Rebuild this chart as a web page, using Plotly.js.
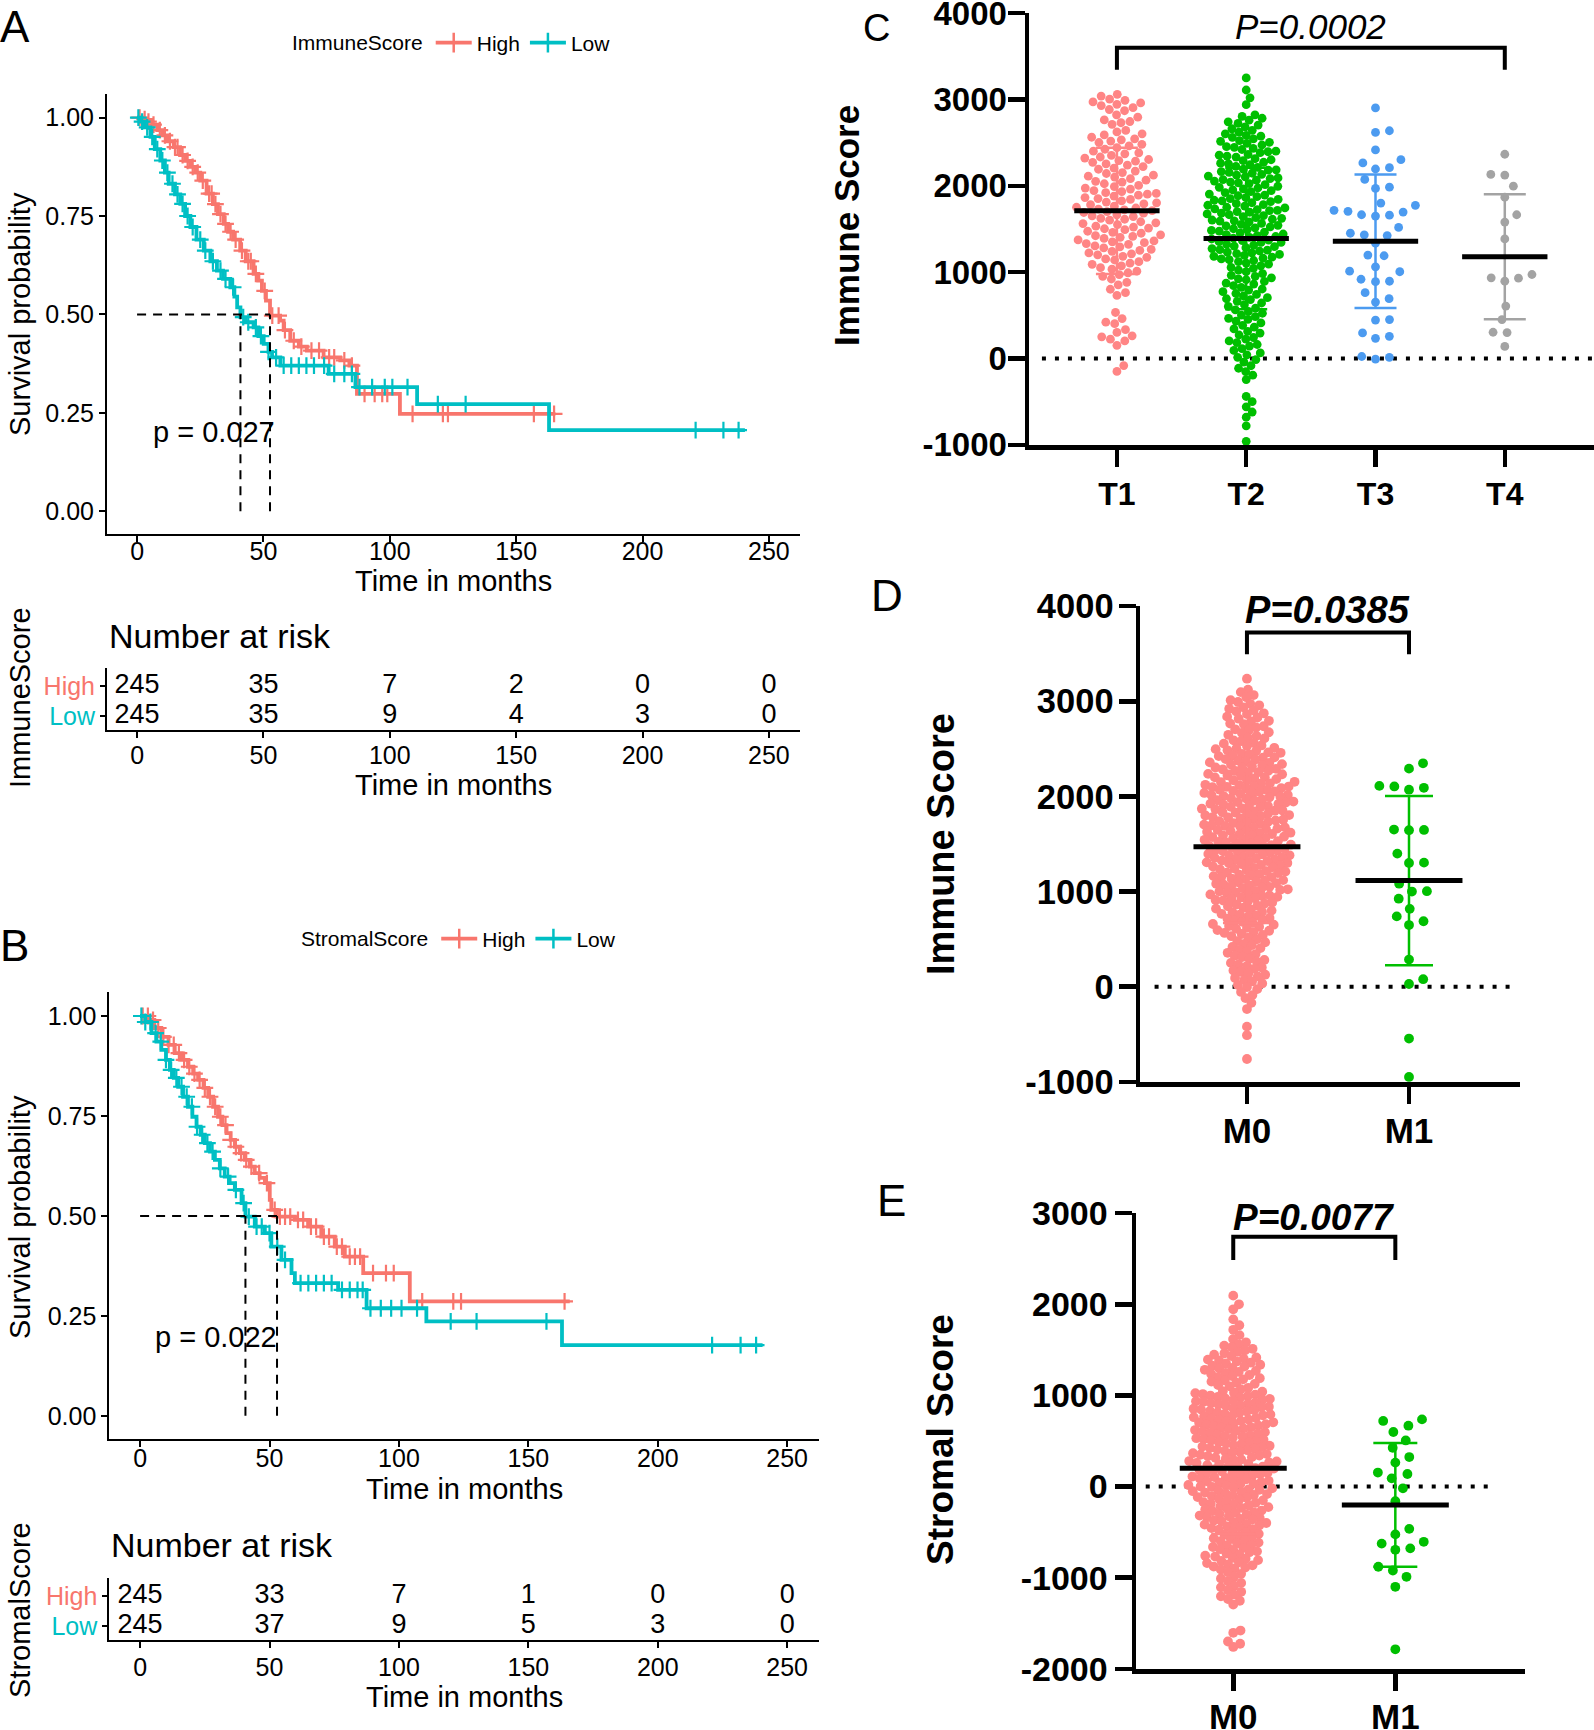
<!DOCTYPE html>
<html><head><meta charset="utf-8">
<script src="https://cdn.plot.ly/plotly-3.0.1.min.js"></script>
<style>html,body{margin:0;padding:0;background:#fff;}#chart{width:1594px;height:1730px;}</style>
</head><body><div id="chart"></div>
<script>
// ===================== DATA =====================
const kmTicks = [0, 50, 100, 150, 200, 250];
const survTicks = [0, 0.25, 0.5, 0.75, 1];
const riskTimes = [0, 50, 100, 150, 200, 250];
const groupNames = ['High', 'Low'];

// Panel A: ImmuneScore survival (event times / survival after event)
const aHighT = [0,2,4,6,8,10,12,14.5,17,19,21,23,25,27.5,30,32,34.3,36,38,40.8,43,46.1,48,49.4,51,52.6,56.6,58,60.6,64,67.2,73.8,80.4,84,87,104];
const aHighS = [1,0.996,0.99,0.982,0.968,0.955,0.94,0.925,0.905,0.89,0.875,0.86,0.84,0.807,0.78,0.755,0.73,0.71,0.69,0.662,0.635,0.603,0.586,0.56,0.535,0.497,0.484,0.46,0.433,0.418,0.408,0.391,0.383,0.37,0.298,0.247];
const aHighEnd = 165.5;
const aHighCens = [1,3,4.5,6.5,9,11,13,15,16,18,20,22,24,26,28.5,29.5,31,33,35,37,39,41.5,44,45,47,50.5,53.5,56,58.5,62,65,69,72,76,78,82,85,90,94,97,99,109,121,123,157,165];
const aLowT = [0,1.5,3,5.3,7,9.2,11,12.5,15,17.1,19,21.1,23.5,26.4,29,31.6,34,36.9,38.5,39.6,40.9,43,46.1,48,50.1,52,53.4,56.7,75.8,86.4,110.8,163];
const aLowS = [1,0.99,0.975,0.951,0.92,0.891,0.86,0.832,0.805,0.781,0.75,0.722,0.69,0.662,0.635,0.611,0.59,0.569,0.545,0.518,0.493,0.48,0.467,0.445,0.425,0.405,0.391,0.37,0.349,0.315,0.272,0.206];
const aLowEnd = 240.5;
const aLowCens = [0.5,2,4,6,8,10,12,14,16,18,20,22,25,27,30,33,35,38,42,44,47,49,52,55,58,61,64,67,70,74,78,82,85,88,93,98,101,107,119,130,221,232,238];
const aRiskHigh = [245, 35, 7, 2, 0, 0];
const aRiskLow = [245, 35, 9, 4, 3, 0];

// Panel B: StromalScore survival
const bHighT = [0,3.1,5.5,8.2,11,13.4,16,18.5,20.5,22.4,24.5,26.3,28.2,30.1,31.8,33.4,35,36.6,38.5,40.4,42.4,44.3,46.2,48.2,50.1,50.7,52.9,59.8,64.9,70,75.2,79.1,86.2,104.2];
const bHighS = [1,0.99,0.97,0.948,0.928,0.907,0.89,0.873,0.856,0.84,0.82,0.798,0.773,0.748,0.727,0.707,0.69,0.673,0.657,0.64,0.623,0.607,0.595,0.582,0.54,0.515,0.498,0.49,0.473,0.448,0.423,0.398,0.357,0.286];
const bHighEnd = 166;
const bHighCens = [1,3,5,7,9,11,13,15,17,19,21,23,25,27,29,31,33,35,37,39,41,43,46,49,52,54,56,58,61,63,66,68,71,73,76,78,81,83,85,90,95,98,109,121,124,164];
const bLowT = [0,2,4.4,6.3,8.2,10,11.5,13,14.7,16.6,18.5,20.2,21.8,23.4,25,27,28.9,30.8,32.7,34.6,36.6,39.2,40.7,44.3,48.2,50.7,54.6,58.5,59.8,76.5,87.5,110.6,163];
const bLowS = [1,0.985,0.957,0.936,0.915,0.89,0.865,0.845,0.823,0.798,0.773,0.748,0.723,0.703,0.682,0.661,0.64,0.619,0.598,0.582,0.565,0.532,0.498,0.473,0.457,0.423,0.39,0.357,0.332,0.315,0.269,0.236,0.177];
const bLowEnd = 240.5;
const bLowCens = [0.5,2,4,6,8,10,12,14,16,18,20,22,24,26,28,31,34,37,40,42,45,47,50,53,56,62,65,68,71,74,78,81,84,86,89,93,97,101,107,120,130,157,221,232,238];
const bRiskHigh = [245, 33, 7, 1, 0, 0];
const bRiskLow = [245, 37, 9, 5, 3, 0];

// Panel C: Immune Score by T stage
const tCats = ['T1', 'T2', 'T3', 'T4'];
const immuneTicks = [-1000, 0, 1000, 2000, 3000, 4000];
const stromalTicks = [-2000, -1000, 0, 1000, 2000, 3000];
const t1Vals = [3060,3040,3005,2990,2972,2960,2944,2930,2905,2884,2870,
 2822,2795,2764,2745,2731,2712,
 2642,2624,2603,2590,2563,2545,2533,2518,2502,2481,2463,2442,
 2424,2401,2383,2371,2352,2334,2322,2305,2293,2286,
 2272,2254,2241,2223,2205,2192,2171,2154,2143,2124,2112,2101,
 2083,2065,2052,2043,2024,2005,1991,1974,1962,1945,1933,1921,1912,1903,
 1892,1881,1864,1852,1843,1825,1812,1803,1791,1782,1764,1752,1743,1731,1722,1712,
 1702,1691,1683,1664,1652,1643,1624,1613,1602,1584,1572,1563,1551,1533,1522,
 1511,1503,1492,1474,1462,1451,1433,1422,1414,1403,1391,1374,1362,1351,1342,1331,
 1322,1304,1293,1281,1263,1252,1241,1223,1212,1201,1183,1172,1153,1141,
 1122,1104,1091,1073,1052,1034,1012,993,972,951,
 921,882,853,802,763,731,
 533,462,421,403,334,302,263,251,224,203,152,
 -82,-150];
const t2Vals = [3250,3110,3020,2940,
 2822,2804,2783,2761,2742,2723,2704,2682,2661,2643,2622,2603,
 2584,2562,2545,2523,2504,2492,2473,2454,2433,2421,2402,2384,2363,2345,2332,2314,2302,2291,
 2273,2262,2244,2225,2213,2194,2183,2165,2146,2132,2124,2113,2105,2092,
 2084,2073,2055,2043,2026,2014,1995,1983,1964,1952,1934,1922,1905,1893,1874,1863,1852,1844,1833,1826,
 1817,1804,1793,1782,1765,1752,1744,1733,1724,1713,1702,1694,1683,1665,1654,1643,1632,1624,1613,1604,
 1592,1583,1565,1554,1543,1525,1514,1503,1494,1475,1463,1454,1442,1424,1413,1404,1393,1384,1372,1366,
 1353,1344,1325,1313,1302,1284,1273,1262,1245,1233,1224,1205,1194,1183,1174,1162,1153,1144,
 1123,1105,1092,1074,1055,1043,1024,1005,984,963,952,934,923,912,
 893,874,862,843,824,805,792,774,753,742,724,705,692,683,
 662,643,624,603,584,563,545,524,503,484,465,452,
 433,412,384,363,342,313,294,272,243,224,
 203,184,162,143,114,93,64,42,13,-12,
 -43,-84,-113,-152,-193,-244,
 -440,-500,-560,-620,-680,-780,-960,
 2575,2515,2445,2395,2355,2255,2185,2155,2065,2035,1975,1945,1885,1775,1715,1675,1595,1535,1485,1435,1345,1295,1255,1215,1135];
const t3Vals = [2903,2638,2619,2416,2303,2265,2210,2195,2074,1984,1970,1800,1774,1716,1705,1696,1665,1660,1650,1518,1451,1432,1424,1335,1198,1190,1062,1012,1005,918,895,890,763,693,654,451,445,296,257,234,23,12,-8];
const t4Vals = [2366,2132,2125,1996,1868,1665,1580,1385,973,934,930,895,607,451,304,300,140];
const tMeans = [1710, 1390, 1358, 1178];
const tSDs = [730, 820, 774, 724];

// Panel D: Immune Score by M stage
const mCats = ['M0', 'M1'];
const dM0Vals = [3238,3122,3097,3066,3043,3011,2993,2974,2958,2937,2921,2903,
 2893,2874,2866,2839,2830,2817,2795,2788,2766,2759,2738,2725,2706,2699,2675,2668,2648,2637,2618,2610,2590,2581,2562,2555,2536,2530,2511,2504,
 2497,2485,2479,2463,2459,2448,2442,2428,2424,2411,2407,2392,2389,2376,2370,2358,2353,2340,2335,2324,2318,2305,2302,2290,2284,2272,2268,2255,2250,2237,2233,2221,2217,2203,2200,2188,2182,2170,2167,2154,2151,2138,2134,2122,2119,2108,2104,2101,
 2097,2086,2083,2071,2066,2058,2052,2049,2037,2031,2027,2015,2012,2003,1998,1991,1980,1977,1968,1960,1957,1946,1941,1935,1924,1921,1913,1903,1899,1890,1886,1875,1871,1864,1853,1850,1842,1833,1829,1818,1815,1804,1800,1793,1781,1779,1768,1762,1755,1747,1740,1733,1725,1720,1711,1704,
 1697,1690,1686,1675,1671,1662,1656,1648,1642,1635,1629,1619,1615,1605,1602,1591,1587,1577,1572,1564,1559,1549,1544,1536,1530,1521,1517,1507,1503,1493,1488,1480,1474,1465,1461,1451,1446,1438,1432,1423,1419,1409,1404,1396,1390,1381,1377,1367,1362,1354,1348,1339,1335,1325,1320,1312,1307,1301,
 1296,1288,1279,1273,1263,1257,1248,1241,1232,1226,1215,1210,1200,1194,1184,1178,1168,1162,1152,1147,1136,1130,1120,1114,1104,1098,1088,1082,1072,1066,1056,1050,1040,1034,1024,1018,1008,1002,992,986,976,970,960,954,944,938,928,922,912,906,
 896,885,874,864,851,844,830,821,810,800,787,780,766,757,746,736,723,716,702,693,682,672,659,652,638,629,618,608,595,588,574,565,554,544,531,516,
 497,480,467,449,436,418,405,387,374,356,343,325,312,294,281,263,250,232,219,201,188,170,157,139,126,108,
 92,71,55,34,18,-4,-26,-55,-88,-120,-170,-235,
 -420,-510,-760];
const dM1Vals = [2348,2292,2111,2105,2091,2071,1648,1652,1645,1399,1304,1300,1083,1004,1000,925,818,739,688,648,285,79,28,-545,-949];
const dMeans = [1470, 1115];
const dSDs = [800, 890];

// Panel E: Stromal Score by M stage
const eM0Vals = [2095,2000,1945,1835,1770,1720,
 1662,1618,1583,1561,1547,1528,1512,1496,1478,1463,1447,1431,1417,1404,
 1393,1384,1371,1359,1351,1337,1326,1316,1303,1294,1281,1269,1259,1246,1236,1224,1211,1201,1189,1177,1163,1152,1139,1127,1113,1099,1084,1068,
 1047,1041,1030,1025,1015,1009,999,993,984,978,968,962,953,947,937,931,922,916,906,900,891,885,875,869,860,854,844,838,829,823,813,807,798,792,782,776,767,761,751,745,736,730,720,714,705,701,
 694,685,679,669,662,652,646,637,630,620,613,604,597,587,580,571,564,554,547,538,531,521,514,505,498,488,481,472,465,455,448,439,432,422,415,406,399,389,382,373,366,356,349,340,333,323,316,305,
 297,291,280,275,265,259,249,244,234,228,218,213,203,197,187,182,172,166,156,151,141,135,125,120,110,104,94,89,79,73,63,58,48,42,32,27,17,11,1,-4,-14,-20,-30,-35,-45,-51,-61,-66,-76,-82,-92,-97,
 -105,-115,-122,-133,-141,-152,-159,-170,-178,-189,-196,-207,-215,-226,-233,-244,-252,-263,-270,-281,-289,-300,-307,-318,-326,-337,-344,-355,-363,-374,-381,-392,-400,-411,-418,-429,-437,-448,-455,-466,-474,-492,
 -504,-519,-528,-543,-552,-567,-576,-591,-600,-615,-624,-639,-648,-663,-672,-687,-696,-711,-720,-735,-744,-759,-768,-783,-792,-807,-816,-831,-840,-855,-864,-879,-888,-899,
 -910,-940,-958,-989,-1008,-1039,-1057,-1088,-1106,-1137,-1155,-1186,-1204,-1235,-1253,-1295,
 -1580,-1605,-1700,-1725,-1760];
const eM1Vals = [737,720,668,599,506,425,324,263,154,138,90,-19,-161,-464,-525,-606,-626,-678,-694,-880,-921,-990,-1100,-1786];
const eMeans = [200, -201];
const eSDs = [720, 679];

// ===================== STYLE / LAYOUT =====================
const W = 1594, H = 1730;
const FONT = 'Liberation Sans, Arial, Helvetica, sans-serif';
const RED = '#F8766D', TEAL = '#00BFC4';
const PINK = '#FF8585', GREEN = '#00BF00', BLUE = '#4C9BF0', GRAY = '#A3A3A3';

function xd(a, b) { return [a / W, b / W]; }
function yd(top, bottom) { return [1 - bottom / H, 1 - top / H]; }

const KMX = [-11.9, 262.3];
const KMY = [-0.058, 1.06];
const RKY = [0.533, 2.6];

const dom = {
  x1: xd(107, 800), y1: yd(94, 534),
  x2: xd(107, 800), y2: yd(668, 730),
  x3: xd(109.3, 819), y3: yd(992, 1439),
  x4: xd(109.3, 819), y4: yd(1578, 1640),
  x5: xd(1029, 1594), y5: yd(13, 445),
  x6: xd(1140, 1520), y6: yd(606, 1082),
  x7: xd(1136, 1525), y7: yd(1213, 1669)
};
const rng = {
  x5: [-0.68, 3.69], y5: [-1002, 4002],
  x6: [-0.66, 1.685], y6: [-1002, 4002],
  x7: [-0.60, 1.80], y7: [-2002, 3002]
};
function ppu(d, r, tot) { return (d[1] - d[0]) * tot / (r[1] - r[0]); }

function stepAt(T, S, t) { let s = S[0]; for (let i = 0; i < T.length; i++) { if (T[i] <= t) s = S[i]; else break; } return s; }
function median(T, S) { for (let i = 0; i < T.length; i++) if (S[i] <= 0.5) return T[i]; return null; }

function kmTraces(T, S, end, cens, color, xa, ya, name, legend) {
  return [
    { type: 'scatter', mode: 'lines', x: T.concat([end]), y: S.concat([S[S.length - 1]]),
      line: { shape: 'hv', color, width: 3.8 }, xaxis: xa, yaxis: ya, showlegend: false, hoverinfo: 'skip' },
    { type: 'scatter', mode: 'markers', x: cens, y: cens.map(t => stepAt(T, S, t)),
      marker: { symbol: 'cross-thin', size: 12, color, line: { color, width: 2.2 } },
      xaxis: xa, yaxis: ya, showlegend: false, hoverinfo: 'skip' },
    { type: 'scatter', mode: 'lines+markers', x: [null], y: [null], name, legend,
      line: { color, width: 3.8 }, marker: { symbol: 'cross-thin', size: 14, color, line: { color, width: 2.5 } },
      xaxis: xa, yaxis: ya, showlegend: true }
  ];
}
function riskTrace(vals, row, xa, ya) {
  return { type: 'scatter', mode: 'text', x: riskTimes, y: riskTimes.map(() => row), text: vals.map(String),
    textfont: { family: FONT, size: 27, color: '#000' }, xaxis: xa, yaxis: ya, showlegend: false, hoverinfo: 'skip', cliponaxis: false };
}

function swarm(vals, pxY, dist) {
  const order = vals.map((v, i) => i).sort((a, b) => vals[a] - vals[b]);
  const placed = []; const off = new Array(vals.length);
  for (const i of order) {
    const y = vals[i] * pxY;
    const near = [];
    for (let k = placed.length - 1; k >= 0; k--) { const p = placed[k]; if (y - p.y >= dist) break; near.push(p); }
    const cands = [0];
    near.forEach(p => { const dx = Math.sqrt(Math.max(0, dist * dist - (p.y - y) ** 2)); cands.push(p.x + dx, p.x - dx); });
    cands.sort((a, b) => Math.abs(a) - Math.abs(b));
    let best = 0;
    for (const c of cands) { if (near.every(p => (p.x - c) ** 2 + (p.y - y) ** 2 >= dist * dist - 0.01)) { best = c; break; } }
    placed.push({ x: best, y }); off[i] = best;
  }
  return off;
}
function dotTrace(vals, idx, color, size, dist, xa, ya, pxX, pxY) {
  const off = swarm(vals, pxY, dist);
  return { type: 'scatter', mode: 'markers', x: off.map(o => idx + o / pxX), y: vals,
    marker: { color, size, line: { width: 0 } }, xaxis: xa, yaxis: ya, showlegend: false, hoverinfo: 'skip', cliponaxis: false };
}
function summaryTraces(means, sds, colors, half, cap, xa, ya) {
  const out = [];
  means.forEach((m, i) => {
    out.push({ type: 'scatter', mode: 'markers', x: [i], y: [m], marker: { size: 1, color: 'rgba(0,0,0,0)' },
      error_y: { type: 'data', array: [sds[i]], color: colors[i], thickness: 2.5, width: cap, visible: true },
      xaxis: xa, yaxis: ya, showlegend: false, hoverinfo: 'skip' });
  });
  const mx = [], my = [];
  means.forEach((m, i) => { mx.push(i - half, i + half, null); my.push(m, m, null); });
  out.push({ type: 'scatter', mode: 'lines', x: mx, y: my, line: { color: '#000', width: 5 }, xaxis: xa, yaxis: ya, showlegend: false, hoverinfo: 'skip' });
  return out;
}
function bracket(x0, x1, yLow, yHigh, xa, ya) {
  return { type: 'scatter', mode: 'lines', x: [x0, x0, x1, x1], y: [yLow, yHigh, yHigh, yLow],
    line: { color: '#000', width: 4 }, xaxis: xa, yaxis: ya, showlegend: false, hoverinfo: 'skip' };
}

// ---------- traces ----------
let traces = [];
traces = traces.concat(kmTraces(aHighT, aHighS, aHighEnd, aHighCens, RED, 'x', 'y', groupNames[0], 'legend'));
traces = traces.concat(kmTraces(aLowT, aLowS, aLowEnd, aLowCens, TEAL, 'x', 'y', groupNames[1], 'legend'));
traces.push(riskTrace(aRiskHigh, 2, 'x2', 'y2'), riskTrace(aRiskLow, 1, 'x2', 'y2'));
traces = traces.concat(kmTraces(bHighT, bHighS, bHighEnd, bHighCens, RED, 'x3', 'y3', groupNames[0], 'legend2'));
traces = traces.concat(kmTraces(bLowT, bLowS, bLowEnd, bLowCens, TEAL, 'x3', 'y3', groupNames[1], 'legend2'));
traces.push(riskTrace(bRiskHigh, 2, 'x4', 'y4'), riskTrace(bRiskLow, 1, 'x4', 'y4'));

const pxX5 = ppu(dom.x5, rng.x5, W), pxY5 = ppu(dom.y5, rng.y5, H);
const pxX6 = ppu(dom.x6, rng.x6, W), pxY6 = ppu(dom.y6, rng.y6, H);
const pxX7 = ppu(dom.x7, rng.x7, W), pxY7 = ppu(dom.y7, rng.y7, H);
const tColors = [PINK, GREEN, BLUE, GRAY];
const tSpacing = [9.0, 7.9, 14, 14];
[t1Vals, t2Vals, t3Vals, t4Vals].forEach((v, i) => traces.push(dotTrace(v, i, tColors[i], 8.8, tSpacing[i], 'x5', 'y5', pxX5, pxY5)));
traces = traces.concat(summaryTraces(tMeans, tSDs, tColors, 0.33, 21, 'x5', 'y5'));
traces.push(bracket(0, 3, 3346, 3600, 'x5', 'y5'));

const mColors = [PINK, GREEN];
const dSpacing = [7.6, 15], eSpacing = [7.6, 15];
[dM0Vals, dM1Vals].forEach((v, i) => traces.push(dotTrace(v, i, mColors[i], 9.8, dSpacing[i], 'x6', 'y6', pxX6, pxY6)));
traces = traces.concat(summaryTraces(dMeans, dSDs, mColors, 0.33, 24, 'x6', 'y6'));
traces.push(bracket(0, 1, 3494, 3723, 'x6', 'y6'));

[eM0Vals, eM1Vals].forEach((v, i) => traces.push(dotTrace(v, i, mColors[i], 9.8, eSpacing[i], 'x7', 'y7', pxX7, pxY7)));
traces = traces.concat(summaryTraces(eMeans, eSDs, mColors, 0.33, 22, 'x7', 'y7'));
traces.push(bracket(0, 1, 2487, 2741, 'x7', 'y7'));

// ---------- axes ----------
const tf = (size, extra) => Object.assign({ family: FONT, size, color: '#000' }, extra || {});
function kmX(d, anchor, standoff) {
  return { domain: d, anchor, range: KMX, tickvals: kmTicks, ticks: 'outside', ticklen: 6, tickwidth: 2, tickcolor: '#000',
    showline: true, linewidth: 2, linecolor: '#000', showgrid: false, zeroline: false, tickfont: tf(25), ticklabelstandoff: standoff, fixedrange: true };
}
function kmY(d, anchor) {
  return { domain: d, anchor, range: KMY, tickvals: survTicks, tickformat: '.2f', ticks: 'outside', ticklen: 6, tickwidth: 2, tickcolor: '#000',
    showline: true, linewidth: 2, linecolor: '#000', showgrid: false, zeroline: false, tickfont: tf(25), fixedrange: true };
}
function rkY(d, anchor) {
  return { domain: d, anchor, range: RKY, tickvals: [2, 1],
    ticktext: ['<span style="color:' + RED + '">' + groupNames[0] + '</span>', '<span style="color:' + TEAL + '">' + groupNames[1] + '</span>'],
    ticks: 'outside', ticklen: 5, tickwidth: 2, tickcolor: '#000', showline: true, linewidth: 2, linecolor: '#000',
    showgrid: false, zeroline: false, tickfont: tf(25), fixedrange: true };
}
function dotX(d, anchor, r, cats, size, standoff) {
  return { domain: d, anchor, range: r, tickvals: cats.map((c, i) => i), ticktext: cats, ticks: 'outside', ticklen: 17, tickwidth: 4.5,
    tickcolor: '#000', showline: true, linewidth: 4.5, linecolor: '#000', showgrid: false, zeroline: false,
    tickfont: tf(size, { weight: 'bold' }), ticklabelstandoff: standoff, ticklabeloverflow: 'allow', fixedrange: true };
}
function dotY(d, anchor, r, vals, size, standoff) {
  return { domain: d, anchor, range: r, tickvals: vals, ticktext: vals.map(v => String(v)), ticks: 'outside', ticklen: 17, tickwidth: 4.5, tickcolor: '#000',
    showline: true, linewidth: 4.5, linecolor: '#000', showgrid: false, zeroline: false,
    tickfont: tf(size, { weight: 'bold' }), ticklabelstandoff: standoff, ticklabeloverflow: 'allow', fixedrange: true };
}

function ann(text, xpx, ypx, size, opts) {
  return Object.assign({ text, xref: 'paper', yref: 'paper', x: xpx / W, y: 1 - ypx / H, xanchor: 'center', yanchor: 'middle',
    showarrow: false, font: tf(size) }, opts || {});
}
const bold = (s) => tf(s, { weight: 'bold' });

const medA = [median(aHighT, aHighS), median(aLowT, aLowS)];
const medB = [median(bHighT, bHighS), median(bLowT, bLowS)];
function medianShapes(meds, xr, yr) {
  const dash = { color: '#000', width: 2, dash: '9px,7px' };
  const s = [{ type: 'line', xref: xr, yref: yr, x0: 0, x1: Math.max(...meds), y0: 0.5, y1: 0.5, line: dash }];
  meds.forEach(m => s.push({ type: 'line', xref: xr, yref: yr, x0: m, x1: m, y0: 0, y1: 0.5, line: dash }));
  return s;
}
const dotLine = { color: '#000', width: 4, dash: '4px,9px' };
const shapes = [].concat(
  medianShapes(medA, 'x', 'y'),
  medianShapes(medB, 'x3', 'y3'),
  [{ type: 'line', xref: 'x5', yref: 'y5', x0: -0.58, x1: 3.69, y0: 0, y1: 0, line: dotLine, layer: 'below' },
   { type: 'line', xref: 'x6', yref: 'y6', x0: -0.57, x1: 1.64, y0: 0, y1: 0, line: dotLine, layer: 'below' },
   { type: 'line', xref: 'x7', yref: 'y7', x0: -0.54, x1: 1.59, y0: 0, y1: 0, line: dotLine, layer: 'below' }]
);

const annotations = [
  ann('A', 15, 26, 44), ann('B', 15, 945, 44),
  ann('C', 876, 5, 38, { yanchor: 'top' }),
  ann('D', 887, 596, 44), ann('E', 891, 1200, 44),
  ann('Survival probability', 20, 314, 29, { textangle: -90 }),
  ann('Time in months', 453, 581, 29),
  ann('Number at risk', 107, 636, 34, { xanchor: 'left' }),
  ann('Time in months', 453, 785, 29),
  ann('ImmuneScore', 20, 698, 29, { textangle: -90 }),
  ann('Survival probability', 20, 1217, 29, { textangle: -90 }),
  ann('Time in months', 464, 1489, 29),
  ann('Number at risk', 109, 1545, 34, { xanchor: 'left' }),
  ann('Time in months', 464, 1697, 29),
  ann('StromalScore', 20, 1610, 29, { textangle: -90 }),
  { text: 'p = 0.027', xref: 'x', yref: 'y', x: 5.5, y: 0.201, xanchor: 'left', yanchor: 'middle', showarrow: false, font: tf(29) },
  { text: 'p = 0.022', xref: 'x3', yref: 'y3', x: 5, y: 0.1975, xanchor: 'left', yanchor: 'middle', showarrow: false, font: tf(29) },
  ann('Immune Score', 847, 226, 35, { textangle: -90, font: bold(35) }),
  ann('Immune Score', 941, 844, 38, { textangle: -90, font: bold(38) }),
  ann('Stromal Score', 940, 1440, 37, { textangle: -90, font: bold(37) }),
  { text: 'P=0.0002', xref: 'x5', yref: 'y5', x: 1.5, y: 3850, xanchor: 'center', yanchor: 'middle', showarrow: false, font: tf(35, { style: 'italic' }) },
  { text: 'P=0.0385', xref: 'x6', yref: 'y6', x: 0.5, y: 3958, xanchor: 'center', yanchor: 'middle', showarrow: false, font: tf(38, { style: 'italic', weight: 'bold' }) },
  { text: 'P=0.0077', xref: 'x7', yref: 'y7', x: 0.5, y: 2956, xanchor: 'center', yanchor: 'middle', showarrow: false, font: tf(37, { style: 'italic', weight: 'bold' }) }
];

const legendBase = { orientation: 'h', xanchor: 'left', yanchor: 'top', font: tf(21), bgcolor: 'rgba(0,0,0,0)', itemwidth: 36, tracegroupgap: 0 };

const layout = {
  width: W, height: H, margin: { l: 0, r: 0, t: 0, b: 0 }, paper_bgcolor: '#fff', plot_bgcolor: 'rgba(0,0,0,0)',
  font: { family: FONT, color: '#000' }, showlegend: true,
  legend: Object.assign({}, legendBase, { title: { text: 'ImmuneScore', side: 'left', font: tf(21) }, x: 290 / W, y: 1 - 22.5 / H }),
  legend2: Object.assign({}, legendBase, { title: { text: 'StromalScore', side: 'left', font: tf(21) }, x: 299 / W, y: 1 - 918.5 / H }),
  xaxis: kmX(dom.x1, 'y', -12), yaxis: kmY(dom.y1, 'x'),
  xaxis2: kmX(dom.x2, 'y2', -4), yaxis2: rkY(dom.y2, 'x2'),
  xaxis3: kmX(dom.x3, 'y3', -10), yaxis3: kmY(dom.y3, 'x3'),
  xaxis4: kmX(dom.x4, 'y4', -2), yaxis4: rkY(dom.y4, 'x4'),
  xaxis5: dotX(dom.x5, 'y5', rng.x5, tCats, 32, 0), yaxis5: dotY(dom.y5, 'x5', rng.y5, immuneTicks, 33, -6),
  xaxis6: dotX(dom.x6, 'y6', rng.x6, mCats, 35, -3), yaxis6: dotY(dom.y6, 'x6', rng.y6, immuneTicks, 34.5, -2),
  xaxis7: dotX(dom.x7, 'y7', rng.x7, mCats, 35, -4), yaxis7: dotY(dom.y7, 'x7', rng.y7, stromalTicks, 34, 0),
  shapes, annotations
};

Plotly.newPlot('chart', traces, layout, { staticPlot: true, displayModeBar: false });
</script>
</body></html>
